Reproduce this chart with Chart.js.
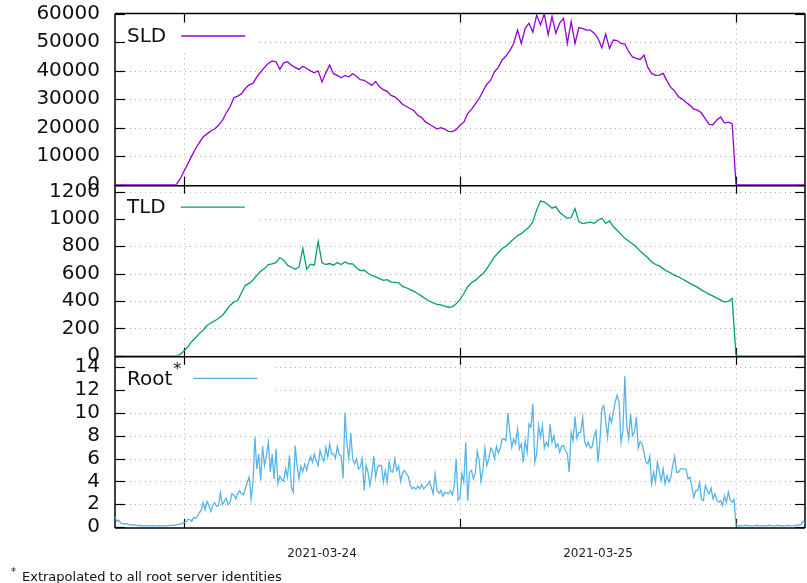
<!DOCTYPE html>
<html><head><meta charset="utf-8">
<script src="https://cdn.jsdelivr.net/npm/chart.js@4.4.1/dist/chart.umd.min.js"></script>
<style>html,body{margin:0;padding:0;background:#fff;}canvas{display:block;}</style>
</head><body>
<canvas id="c" width="807" height="583"></canvas>
<script>
// Time axis: hours since 2021-03-23 18:00
const X_TICK_HOURS = [6, 30, 54];            // midnights (grid lines)
const X_LABEL_HOURS = [18, 42];              // day centres (labels)
const X_LABELS = ['2021-03-24', '2021-03-25'];
const X_MIN = 0, X_MAX = 60;

const SLD_TICKS = [0, 10000, 20000, 30000, 40000, 50000, 60000];
const TLD_TICKS = [0, 200, 400, 600, 800, 1000, 1200];
const ROOT_TICKS = [0, 2, 4, 6, 8, 10, 12, 14];
const SLD_MAX = 60000, TLD_MAX = 1250, ROOT_MAX = 15;

const SLD_STEP_H = 1 / 3;   // 20-minute samples
const TLD_STEP_H = 1 / 3;
const ROOT_STEP_H = 1 / 6;  // 10-minute samples

const SLD_VALUES = [
  0,0,0,0,0,0,0,0,0,0,0,0,0,0,0,0,0,
  2000,4700,7300,10000,12600,14700,16700,17800,18800,19500,
  20800,22500,25100,27200,30500,31000,31900,33700,35000,35500,
  37800,39500,41100,42500,43400,43100,40400,42700,43100,41900,
  41100,40400,41500,40700,39900,39200,39900,36000,39200,41900,
  38900,38300,37500,38300,37800,38900,38000,36800,36600,35700,
  34800,36200,34300,33300,32700,31300,30800,29600,28200,27400,
  26700,25900,24300,23500,22000,21200,20400,19500,20000,19500,
  18700,18600,19300,20800,21900,24900,26400,28300,30200,32800,
  35200,36600,39600,41100,43700,45100,47000,49500,54200,49500,
  54800,56600,53500,59500,56000,59900,52500,58900,53100,56600,
  58300,49500,57200,49500,55000,54800,54200,54200,53100,51300,
  48000,52800,47800,50700,50500,49500,49300,46600,44800,44300,
  43900,45400,41100,39000,38300,38400,39000,36400,34100,32800,
  30800,30000,28800,27800,26500,26100,25100,23100,21100,21000,
  22700,23700,21600,21900,21400,
  0,0,0,0,0,0,0,0,0,0,0,0,0,0,0,0,0,0,0
];

const TLD_VALUES = [
  0,0,0,0,0,0,0,0,0,0,0,0,0,0,0,0,0,
  10,35,66,103,132,162,189,221,240,255,
  275,294,331,368,392,404,461,515,529,554,
  588,618,637,667,672,681,718,699,662,647,
  632,649,784,632,669,662,835,680,667,674,
  662,681,667,686,672,672,642,623,625,603,
  588,576,564,551,556,539,537,534,507,497,
  483,471,453,436,417,399,387,375,372,363,
  355,358,380,410,455,505,534,551,578,600,
  637,681,723,755,784,801,828,853,877,892,
  917,939,980,1066,1130,1123,1103,1078,1090,1049,
  1025,1005,1010,1075,980,966,971,976,968,990,
  1005,968,985,943,917,887,858,838,816,794,
  765,740,716,686,667,657,637,618,605,588,
  576,561,546,529,515,500,480,466,449,436,
  421,407,392,397,418,
  0,0,0,0,0,0,0,0,0,0,0,0,0,0,0,0,0,0,0
];

const ROOT_VALUES = [
  0.9,0.5,0.6,0.35,0.3,0.25,0.3,0.2,0.2,0.15,
  0.2,0.15,0.12,0.15,0.1,0.12,0.1,0.12,0.1,0.1,
  0.12,0.1,0.1,0.12,0.1,0.1,0.12,0.1,0.12,0.15,
  0.15,0.15,0.2,0.23,0.26,0.32,0.38,0.44,0.64,0.67,
  0.5,0.84,0.76,0.96,1.25,1.46,2.13,1.51,2.24,1.89,
  1.37,1.89,2.13,1.8,1.89,3.0,1.95,2.24,2.53,1.95,
  2.13,2.91,2.82,2.47,2.91,3.17,2.91,2.82,3.35,3.93,
  4.37,2.47,3.93,7.86,5.09,6.4,4.08,7.07,5.39,6.26,
  7.42,4.8,6.4,4.22,6.84,3.78,4.45,4.16,3.99,5.09,
  4.37,6.26,3.49,3.06,7.13,5.39,4.22,5.33,4.86,5.53,
  4.95,5.68,6.2,5.68,6.4,5.82,5.39,6.7,6.11,5.74,
  6.99,6.11,7.28,6.4,6.4,6.03,7.07,6.32,6.26,4.3,
  10.04,7.28,5.97,8.24,5.97,5.53,5.97,5.09,5.24,5.97,
  3.2,5.39,4.8,3.64,4.66,6.2,4.37,5.24,5.39,5.39,
  3.93,4.95,3.93,5.68,4.86,4.8,5.97,4.95,5.33,3.99,
  4.75,4.95,4.66,4.45,3.7,3.35,3.49,3.29,3.58,3.35,
  3.7,3.35,3.52,3.7,3.99,3.49,2.91,4.66,3.2,2.97,
  3.2,2.71,3.0,3.0,2.91,3.17,2.82,3.64,5.97,2.33,
  2.6,
  4.66,3.93,7.42,2.3,4.8,4.95,4.22,4.72,6.64,5.82,
  4.0,5.09,6.9,5.39,5.97,6.9,6.7,5.97,7.07,6.49,
  6.9,7.71,7.71,7.57,10.0,8.3,6.99,7.71,7.28,8.59,
  6.84,7.28,5.68,7.57,6.55,9.02,8.73,10.8,5.68,6.4,
  8.88,7.86,8.88,6.9,7.42,7.07,9.02,7.42,8.0,6.99,
  7.28,6.55,7.07,7.13,6.7,6.4,4.8,8.3,7.57,9.69,
  7.77,8.3,8.3,9.61,7.48,7.07,7.42,6.9,7.07,8.0,
  8.44,5.68,7.57,10.33,10.63,9.32,7.86,9.75,9.17,10.04,
  10.98,11.56,10.92,7.42,8.44,13.2,8.88,7.71,9.9,8.0,
  8.3,9.61,6.9,7.48,7.28,6.55,5.68,5.53,6.2,3.78,
  4.8,3.93,5.68,4.8,4.08,5.09,3.78,4.51,3.93,4.37,
  5.39,6.2,4.8,4.8,5.09,5.09,5.09,5.04,4.22,4.37,
  3.49,2.62,3.2,3.2,3.87,2.42,2.33,3.64,3.2,2.91,
  3.41,2.47,2.91,2.33,2.18,2.33,1.89,2.71,2.13,3.06,
  2.33,2.18,2.42,0.1,
  0.1,0.12,0.1,0.1,0.15,0.1,0.12,0.1,0.1,0.12,
  0.15,0.1,0.1,0.12,0.1,0.1,0.15,0.12,0.1,0.1,
  0.12,0.15,0.1,0.12,0.1,0.1,0.15,0.12,0.1,0.12,
  0.15,0.2,0.15,0.25,0.5,0.3
];

const COLORS = { SLD: '#9400d3', TLD: '#009e73', Root: '#56b4e9' };
const FONT = "'DejaVu Sans', sans-serif";

function toPoints(values, step) {
  return values.map((v, i) => ({ x: i * step, y: v }));
}

const PANELS = [
  { axis: 'ySLD', ticks: SLD_TICKS, name: 'SLD', sup: '', color: COLORS.SLD, boxW: 142 },
  { axis: 'yTLD', ticks: TLD_TICKS, name: 'TLD', sup: '', color: COLORS.TLD, boxW: 142 },
  { axis: 'yRoot', ticks: ROOT_TICKS, name: 'Root', sup: '*', color: COLORS.Root, boxW: 155 }
];

function line(ctx, x1, y1, x2, y2) {
  ctx.beginPath(); ctx.moveTo(x1, y1); ctx.lineTo(x2, y2); ctx.stroke();
}

const gnuplotFrame = {
  id: 'gnuplotFrame',
  beforeDatasetsDraw(chart) {
    const ctx = chart.ctx, ca = chart.chartArea, xs = chart.scales.x;
    ctx.save();
    ctx.strokeStyle = '#ababab';
    ctx.lineWidth = 1;
    ctx.setLineDash([1, 4]);
    PANELS.forEach(p => {
      const s = chart.scales[p.axis];
      p.ticks.forEach(v => {
        const y = Math.round(s.getPixelForValue(v)) + 0.5;
        if (y - s.top < 3 || s.bottom - y < 3) return;
        line(ctx, ca.left, y, ca.right, y);
      });
    });
    X_TICK_HOURS.forEach(h => {
      const x = Math.round(xs.getPixelForValue(h)) + 0.5;
      line(ctx, x, ca.top, x, ca.bottom);
    });
    ctx.setLineDash([]);
    // opaque key boxes
    ctx.fillStyle = '#ffffff';
    PANELS.forEach(p => {
      const s = chart.scales[p.axis];
      ctx.fillRect(ca.left + 1, s.top + 8, p.boxW, 31);
    });
    // frames (drawn under the data, bottom edge just below the zero line)
    ctx.strokeStyle = '#000';
    ctx.lineWidth = 1.5;
    line(ctx, ca.left, ca.top, ca.right, ca.top);
    line(ctx, ca.left, ca.top, ca.left, ca.bottom + 1);
    line(ctx, ca.right, ca.top, ca.right, ca.bottom + 1);
    PANELS.forEach(p => {
      const s = chart.scales[p.axis];
      line(ctx, ca.left, s.bottom + 1, ca.right, s.bottom + 1);
    });
    // ticks
    ctx.lineWidth = 1.2;
    PANELS.forEach(p => {
      const s = chart.scales[p.axis];
      p.ticks.forEach(v => {
        const y = Math.round(s.getPixelForValue(v)) + 0.5;
        line(ctx, ca.left, y, ca.left + 10, y);
        line(ctx, ca.right - 10, y, ca.right, y);
      });
      X_TICK_HOURS.forEach(h => {
        const x = Math.round(xs.getPixelForValue(h)) + 0.5;
        line(ctx, x, s.top, x, s.top + 9);
        line(ctx, x, s.bottom - 8, x, s.bottom + 1);
      });
    });
    ctx.restore();
  },
  afterDatasetsDraw(chart) {
    const ctx = chart.ctx, ca = chart.chartArea;
    ctx.save();
    // keys
    PANELS.forEach(p => {
      const s = chart.scales[p.axis];
      const ty = s.top + 23.5;
      const tx = ca.left + 12;
      ctx.font = '20px ' + FONT;
      ctx.fillStyle = '#111';
      ctx.textBaseline = 'middle';
      ctx.textAlign = 'left';
      ctx.fillText(p.name, tx, ty);
      let w = ctx.measureText(p.name).width;
      if (p.sup) {
        ctx.font = '16px ' + FONT;
        ctx.fillText(p.sup, tx + w + 1, ty - 9);
        w += ctx.measureText(p.sup).width + 1;
      }
      const lx = tx + w + (p.sup ? 12 : 15);
      ctx.strokeStyle = p.color;
      ctx.lineWidth = 1.3;
      line(ctx, lx, ty - 1, lx + 64, ty - 1);
    });
    // footnote
    ctx.fillStyle = '#111';
    ctx.textAlign = 'left';
    ctx.textBaseline = 'alphabetic';
    ctx.font = '10px ' + FONT;
    ctx.fillText('*', 11, 575);
    ctx.font = '13px ' + FONT;
    ctx.fillText('Extrapolated to all root server identities', 22, 581);
    ctx.restore();
  }
};

function yScale(max, ticks) {
  return {
    type: 'linear', position: 'left', stack: 'panels', stackWeight: 1,
    min: 0, max: max,
    grid: { display: false, drawTicks: false },
    border: { display: false },
    afterBuildTicks: s => { s.ticks = ticks.map(v => ({ value: v })); },
    afterFit: s => { s.width = 115; s.paddingTop = 0; s.paddingBottom = 0; },
    ticks: {
      autoSkip: false, padding: 15, color: '#111',
      font: { family: FONT, size: 20 },
      callback: v => String(v)
    }
  };
}

new Chart(document.getElementById('c').getContext('2d'), {
  type: 'line',
  data: {
    datasets: [
      { label: 'SLD', data: toPoints(SLD_VALUES, SLD_STEP_H), yAxisID: 'ySLD', borderColor: COLORS.SLD, borderWidth: 1.3 },
      { label: 'TLD', data: toPoints(TLD_VALUES, TLD_STEP_H), yAxisID: 'yTLD', borderColor: COLORS.TLD, borderWidth: 1.3 },
      { label: 'Root', data: toPoints(ROOT_VALUES, ROOT_STEP_H), yAxisID: 'yRoot', borderColor: COLORS.Root, borderWidth: 1.3 }
    ]
  },
  options: {
    responsive: false, animation: false, devicePixelRatio: 1,
    parsing: false,
    layout: { padding: { top: 13.5, right: 2, bottom: 0, left: 0 } },
    elements: { point: { radius: 0 }, line: { tension: 0, fill: false } },
    plugins: { legend: { display: false }, tooltip: { enabled: false } },
    scales: {
      x: {
        type: 'linear', min: X_MIN, max: X_MAX,
        grid: { display: false, drawTicks: false },
        border: { display: false },
        afterBuildTicks: s => { s.ticks = X_LABEL_HOURS.map(v => ({ value: v })); },
        afterFit: s => { s.height = 56; s.paddingLeft = 0; s.paddingRight = 0; },
        ticks: {
          autoSkip: false, maxRotation: 0, padding: 20, color: '#222',
          font: { family: FONT, size: 12 },
          callback: (v, i) => X_LABELS[i]
        }
      },
      yRoot: yScale(ROOT_MAX, ROOT_TICKS),
      yTLD: yScale(TLD_MAX, TLD_TICKS),
      ySLD: yScale(SLD_MAX, SLD_TICKS)
    }
  },
  plugins: [gnuplotFrame]
});
</script>
</body></html>
